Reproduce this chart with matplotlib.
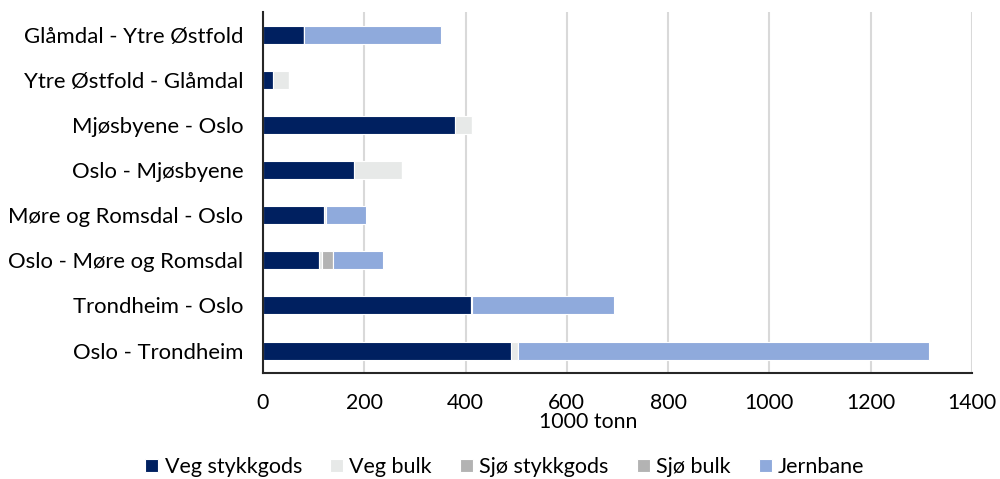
import numpy as np
import matplotlib
matplotlib.use('Agg')
import matplotlib.pyplot as plt

plt.rcParams['font.family'] = ['Lato', 'DejaVu Sans']

# Relations, top to bottom
relations = ['Glåmdal - Ytre Østfold', 'Ytre Østfold - Glåmdal',
             'Mjøsbyene - Oslo', 'Oslo - Mjøsbyene',
             'Møre og Romsdal - Oslo', 'Oslo - Møre og Romsdal',
             'Trondheim - Oslo', 'Oslo - Trondheim']

# 1000 tonn per mode
veg_stykkgods = [80, 20, 380, 180, 121, 110, 410, 490]
veg_bulk = [0, 32, 33, 95, 3, 7, 3, 14]
sjo_stykkgods = [0, 0, 0, 0, 0, 22, 0, 0]
sjo_bulk = [0, 0, 0, 0, 0, 0, 0, 0]
jernbane = [271, 0, 0, 0, 80, 98, 280, 812]

series = [('Veg stykkgods', veg_stykkgods, '#002060'),
          ('Veg bulk', veg_bulk, '#E7E9E8'),
          ('Sjø stykkgods', sjo_stykkgods, '#B3B3B3'),
          ('Sjø bulk', sjo_bulk, '#B3B3B3'),
          ('Jernbane', jernbane, '#8FAADC')]

fig = plt.figure(figsize=(10, 4.79), dpi=100)
ax = fig.add_axes([0.263, 0.221, 0.709, 0.754])

y = np.arange(len(relations))
left = np.zeros(len(relations))
for name, vals, col in series:
    vals = np.array(vals, dtype=float)
    ax.barh(y, vals, left=left, height=0.4, color=col, edgecolor='white',
            linewidth=0.8, label=name, zorder=3)
    left += vals

ax.set_ylim(len(relations) - 0.5, -0.5)
ax.set_xlim(0, 1400)
ax.set_xticks(np.arange(0, 1401, 200))
ax.set_yticks(y)
ax.set_yticklabels(relations, fontsize=15.9, color='#000000')
ax.tick_params(axis='y', length=0, pad=14)
ax.tick_params(axis='x', length=0, pad=14, labelsize=15.3)
ax.grid(axis='x', color='#D9D9D9', linewidth=1.5, zorder=0)

for s in ['top', 'right']:
    ax.spines[s].set_visible(False)
for s in ['left', 'bottom']:
    ax.spines[s].set_color('#262626')
    ax.spines[s].set_linewidth(1.5)
    ax.spines[s].set_zorder(4)

fig.text(0.588, 0.118, '1000 tonn', ha='center', va='center', fontsize=15.3)

handles, labels = ax.get_legend_handles_labels()
fig.legend(handles, labels, loc='center', bbox_to_anchor=(0.505, 0.025),
           ncol=5, frameon=False, fontsize=15.5, handlelength=0.6,
           handleheight=0.6, handletextpad=0.3, columnspacing=1.3)

fig.savefig('out.png', dpi=100)
